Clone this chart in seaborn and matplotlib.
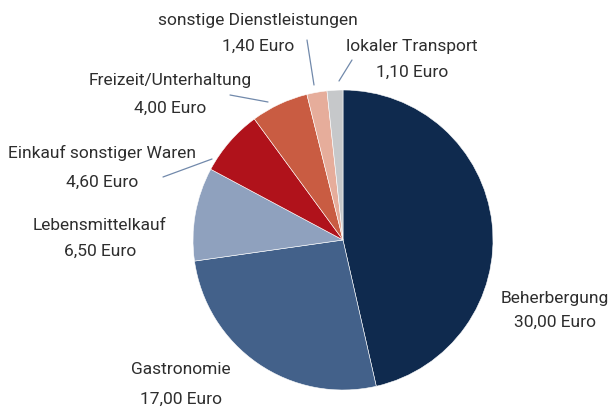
import matplotlib
matplotlib.use("Agg")
import matplotlib.pyplot as plt
import seaborn as sns

# daily spending per guest, in Euro
categories = [
    "Beherbergung",
    "Gastronomie",
    "Lebensmittelkauf",
    "Einkauf sonstiger Waren",
    "Freizeit/Unterhaltung",
    "sonstige Dienstleistungen",
    "lokaler Transport",
]
values = [30.00, 17.00, 6.50, 4.60, 4.00, 1.40, 1.10]
value_labels = ["30,00 Euro", "17,00 Euro", "6,50 Euro", "4,60 Euro",
                "4,00 Euro", "1,40 Euro", "1,10 Euro"]
colors = ["#0f2a4e", "#43618a", "#8fa1be", "#b0121b", "#c95c42", "#e6ad9b", "#c6c8ca"]

sns.set_theme(style="white")
plt.rcParams["font.family"] = ["Roboto", "DejaVu Sans"]

W, H = 615, 408
cx, cy, r = 343, 240, 150  # pie centre / radius in pixels


def px(x, y):
    # pixel position -> data coords (1 unit = pie radius)
    return (x - cx) / r, (cy - y) / r


fig = plt.figure(figsize=(W / 100, H / 100), dpi=100)
ax = fig.add_axes([0, 0, 1, 1])
ax.pie(values, colors=sns.color_palette(colors), startangle=90, counterclock=False,
       radius=1, wedgeprops=dict(edgecolor="white", linewidth=0.4))
ax.set_xlim(-cx / r, (W - cx) / r)
ax.set_ylim(-(H - cy) / r, cy / r)
ax.set_aspect("equal")
ax.axis("off")

# label placement in pixels: x centre, y of name line, y of value line
label_pos = [
    (555, 298, 322),
    (181, 370, 399),
    (100, 226, 251),
    (102, 153, 182),
    (170, 80, 108),
    (258, 21, 46),
    (412, 47, 72),
]
for name, val, (x, y1, y2) in zip(categories, value_labels, label_pos):
    for txt, y in ((name, y1), (val, y2)):
        tx, ty = px(x, y)
        ax.text(tx, ty, txt, ha="center", va="center",
                fontsize=12.5, color="#2e2e2e")

# leader lines for the small slices
leaders = [
    ((163, 177), (212, 159)),
    ((230, 95), (268, 102)),
    ((307, 40), (314, 85)),
    ((352, 60), (339, 81)),
]
for a, b in leaders:
    (x0, y0), (x1, y1) = px(*a), px(*b)
    ax.plot([x0, x1], [y0, y1], color="#7189ab", linewidth=0.9)

fig.savefig("out.png", dpi=100)
